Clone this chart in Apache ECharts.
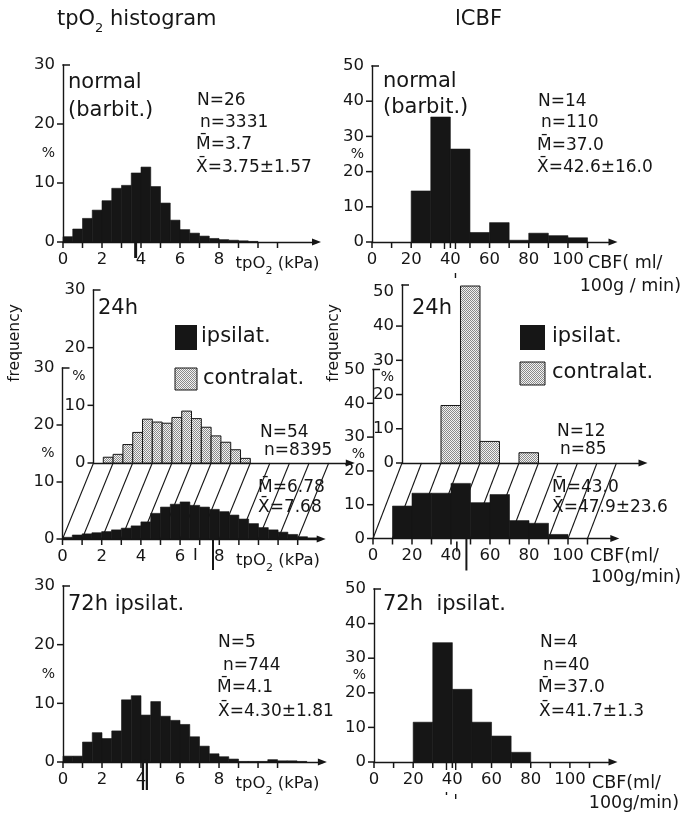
<!DOCTYPE html>
<html>
<head>
<meta charset="utf-8">
<title>tpO2 and lCBF histograms</title>
<script src="https://cdn.jsdelivr.net/npm/echarts@6/dist/echarts.min.js"></script>
<style>
  html, body { margin: 0; padding: 0; background: #ffffff; }
  #chart { width: 683px; height: 813px; }
</style>
</head>
<body>
<div id="chart"></div>
<script>
// ---------------- data ----------------
// tissue pO2 histograms: 0.5 kPa bins, percent of readings
const tpo2BinWidth = 0.5;
const cbfBinWidth = 10;

const tpo2NormalStart = 0;
const tpo2NormalPct = [0.9, 2.2, 4.0, 5.4, 7.0, 9.1, 9.6, 11.7, 12.7, 9.4, 6.6, 3.7, 2.1, 1.5, 1.0, 0.6, 0.4, 0.3, 0.2, 0.1];
const tpo2NormalStats = { N: '26', n: '3331', median: '3.7', mean: '3.75', sd: '1.57' };

const tpo2Day1IpsiStart = 0;
const tpo2Day1IpsiPct = [0.3, 0.7, 0.9, 1.1, 1.3, 1.6, 1.9, 2.3, 3.0, 4.5, 5.6, 6.1, 6.5, 5.9, 5.6, 5.2, 4.8, 4.2, 3.5, 2.7, 2.0, 1.6, 1.2, 0.8, 0.4, 0.2];
const tpo2Day1ContraStart = 0.5;
const tpo2Day1ContraPct = [1.0, 1.5, 3.2, 5.3, 7.6, 7.1, 6.9, 7.9, 9.0, 7.7, 6.2, 4.7, 3.6, 2.3, 0.8];
const tpo2Day1Stats = { N: '54', n: '8395', median: '6.78', mean: '7.68', sd: '' };

const tpo2Day3Start = 0;
const tpo2Day3Pct = [1.0, 1.0, 3.4, 5.0, 4.0, 5.3, 10.6, 11.3, 8.0, 10.3, 7.8, 7.1, 6.4, 4.3, 2.7, 1.4, 0.9, 0.5, 0.1, 0.1, 0.1, 0.4, 0.2, 0.2, 0.1];
const tpo2Day3Stats = { N: '5', n: '744', median: '4.1', mean: '4.30', sd: '1.81' };

// local CBF histograms: 10 ml/100g/min bins, percent of regions
const cbfNormalStart = 20;
const cbfNormalPct = [14.5, 35.5, 26.4, 2.7, 5.5, 0.5, 2.5, 1.8, 1.2];
const cbfNormalStats = { N: '14', n: '110', median: '37.0', mean: '42.6', sd: '16.0' };

const cbfDay1IpsiStart = 10;
const cbfDay1IpsiPct = [9.6, 13.4, 13.4, 16.3, 10.6, 13.0, 5.3, 4.5, 1.2];
const cbfDay1ContraStart = 20;
const cbfDay1ContraPct = [16.8, 51.7, 6.3, 0, 3.0];
const cbfDay1Stats = { N: '12', n: '85', median: '43.0', mean: '47.9', sd: '23.6' };

const cbfDay3Start = 20;
const cbfDay3Pct = [11.5, 34.5, 21.0, 11.5, 7.5, 2.8];
const cbfDay3Stats = { N: '4', n: '40', median: '37.0', mean: '41.7', sd: '1.3' };

// axis ticks and labels
const tpo2Ticks = [0, 1, 2, 3, 4, 5, 6, 7, 8, 9, 10, 11];
const tpo2TicksLong = [0, 1, 2, 3, 4, 5, 6, 7, 8, 9, 10, 11, 12];
const tpo2Labels = [0, 2, 4, 6, 8];
const tpo2UnitAt = 11;
const cbfTicks = [0, 10, 20, 30, 40, 50, 60, 70, 80, 90, 100, 110];
const cbfLabels = [0, 20, 40, 60, 80, 100];
const pct30Ticks = [0, 10, 20];
const pct30Labels = [0, 10, 20, 30];
const pct50Ticks = [0, 10, 20, 30, 40];
const pct50Labels = [0, 10, 20, 30, 40, 50];

// ---------------- styling ----------------
const INK = '#161616';
const FONT = '"DejaVu Sans", sans-serif';
const LINE = { color: INK, width: 1.4 };

// stippled fill used for the contralateral hemisphere
const dots = document.createElement('canvas');
dots.width = 2; dots.height = 2;
(function () {
  const c = dots.getContext('2d');
  c.fillStyle = '#f2f2f2'; c.fillRect(0, 0, 2, 2);
  c.fillStyle = '#8a8a8a'; c.fillRect(0, 0, 1, 1); c.fillRect(1, 1, 1, 1);
})();
const STIPPLE = { image: dots, repeat: 'repeat' };

const grids = [], xAxes = [], yAxes = [], series = [];
const panels = [];     // tick / cap / marker specs, resolved to pixels after layout

function addPanel(p) {
  const gi = grids.length;
  grids.push({ left: p.left, top: p.top, width: p.width, height: p.height });
  const unitFmt = p.unitAt != null;
  xAxes.push({
    type: 'value', gridIndex: gi, min: 0, max: p.xMax,
    axisLine: { show: true, onZero: false, symbol: ['none', 'triangle'], symbolSize: [7, 9], lineStyle: LINE },
    axisTick: { show: false },
    axisLabel: {
      show: !!p.xLabels,
      customValues: p.xLabels ? (unitFmt ? p.xLabels.concat([p.unitAt]) : p.xLabels) : [0],
      margin: 9, color: INK, fontFamily: FONT, fontSize: 16.5,
      formatter: v => (unitFmt && v === p.unitAt) ? '{u|tpO}{s|2}{u| (kPa)}' : String(v),
      rich: {
        u: { fontFamily: FONT, fontSize: 16.5, color: INK, lineHeight: 26, verticalAlign: 'middle' },
        s: { fontFamily: FONT, fontSize: 11, color: INK, lineHeight: 26, verticalAlign: 'bottom' }
      }
    },
    splitLine: { show: false }
  });
  yAxes.push({
    type: 'value', gridIndex: gi, min: 0, max: p.yMax,
    axisLine: { show: true, onZero: false, lineStyle: LINE },
    axisTick: { show: false },
    axisLabel: {
      show: true, customValues: p.yLabels.concat([p.pctAt]),
      margin: 8, color: INK, fontFamily: FONT, fontSize: 16.5,
      formatter: v => v === p.pctAt ? '{p|%}' : String(v),
      rich: { p: { fontFamily: FONT, fontSize: 14, color: INK } }
    },
    splitLine: { show: false }
  });
  panels.push({ gi, xTicks: p.xTicks || [], yTicks: p.yTicks || [], capAt: p.capAt, marks: [] });
  return gi;
}

function histogram(gi, start, width, values, stippled) {
  series.push({
    type: 'custom', xAxisIndex: gi, yAxisIndex: gi, silent: true, z: 2,
    data: values.map((v, i) => [start + i * width, start + (i + 1) * width, v]),
    encode: { x: [0, 1], y: 2 },
    renderItem(params, api) {
      const v = api.value(2);
      if (!v) return null;
      const a = api.coord([api.value(0), v]);
      const b = api.coord([api.value(1), 0]);
      return {
        type: 'rect',
        shape: { x: a[0], y: a[1], width: b[0] - a[0], height: b[1] - a[1] },
        style: stippled
          ? { fill: STIPPLE, stroke: INK, lineWidth: 1 }
          : { fill: INK, stroke: INK, lineWidth: 0.6 }
      };
    }
  });
}

// median / mean markers drawn across the abscissa
function markers(gi, marks) {
  panels.find(p => p.gi === gi).marks = marks;
}

// ---- panel: tpO2 normal ----
const gTpoNormal = addPanel({ left: 63, top: 65, width: 253.5, height: 177, xMax: 13, yMax: 30,
  xTicks: tpo2Ticks, xLabels: tpo2Labels, unitAt: tpo2UnitAt, yTicks: pct30Ticks, yLabels: pct30Labels, pctAt: 15, capAt: 30 });
histogram(gTpoNormal, tpo2NormalStart, tpo2BinWidth, tpo2NormalPct, false);
markers(gTpoNormal, [
  { v: parseFloat(tpo2NormalStats.median), w: 2, segs: [[-1, 16]] },
  { v: parseFloat(tpo2NormalStats.mean), w: 2, segs: [[-1, 16]] }
]);

// ---- panel: CBF normal ----
const gCbfNormal = addPanel({ left: 372, top: 66, width: 241, height: 176, xMax: 123, yMax: 50,
  xTicks: cbfTicks, xLabels: cbfLabels, yTicks: pct50Ticks, yLabels: pct50Labels, pctAt: 25, capAt: 50 });
histogram(gCbfNormal, cbfNormalStart, cbfBinWidth, cbfNormalPct, false);
markers(gCbfNormal, [
  { v: parseFloat(cbfNormalStats.median), w: 1.4, segs: [[-1, 7]] },
  { v: parseFloat(cbfNormalStats.mean), w: 1.4, segs: [[-1, 7], [31, 36]] }
]);

// ---- panel: tpO2 24h (contralateral behind, ipsilateral in front) ----
const gTpoDay1Back = addPanel({ left: 93.5, top: 290, width: 256.8, height: 173, xMax: 13.1, yMax: 30,
  yTicks: pct30Ticks, yLabels: pct30Labels, pctAt: 15, capAt: 30 });
histogram(gTpoDay1Back, tpo2Day1ContraStart, tpo2BinWidth, tpo2Day1ContraPct, true);
const gTpoDay1Front = addPanel({ left: 62.5, top: 368, width: 258.7, height: 171, xMax: 13.2, yMax: 30,
  xTicks: tpo2TicksLong, xLabels: tpo2Labels, unitAt: tpo2UnitAt, yTicks: pct30Ticks, yLabels: pct30Labels, pctAt: 15, capAt: 30 });
histogram(gTpoDay1Front, tpo2Day1IpsiStart, tpo2BinWidth, tpo2Day1IpsiPct, false);
markers(gTpoDay1Front, [
  { v: parseFloat(tpo2Day1Stats.median), w: 1.6, segs: [[9, 21]] },
  { v: parseFloat(tpo2Day1Stats.mean), w: 2, segs: [[-6, 31]] }
]);

// ---- panel: CBF 24h ----
const gCbfDay1Back = addPanel({ left: 402, top: 285, width: 241, height: 178, xMax: 123.6, yMax: 52,
  yTicks: pct50Ticks, yLabels: pct50Labels, pctAt: 25, capAt: 52 });
histogram(gCbfDay1Back, cbfDay1ContraStart, cbfBinWidth, cbfDay1ContraPct, true);
const gCbfDay1Front = addPanel({ left: 373, top: 369.5, width: 241.8, height: 169, xMax: 124, yMax: 50,
  xTicks: cbfTicks, xLabels: cbfLabels, yTicks: pct50Ticks, yLabels: pct50Labels, pctAt: 25, capAt: 50 });
histogram(gCbfDay1Front, cbfDay1IpsiStart, cbfBinWidth, cbfDay1IpsiPct, false);
markers(gCbfDay1Front, [
  { v: parseFloat(cbfDay1Stats.median), w: 1.6, segs: [[3, 13]] },
  { v: parseFloat(cbfDay1Stats.mean), w: 2, segs: [[0, 32]] }
]);

// ---- panel: tpO2 72h ----
const gTpoDay3 = addPanel({ left: 63, top: 586, width: 259.4, height: 176, xMax: 13.3, yMax: 30,
  xTicks: tpo2Ticks, xLabels: tpo2Labels, unitAt: tpo2UnitAt, yTicks: pct30Ticks, yLabels: pct30Labels, pctAt: 15, capAt: 30 });
histogram(gTpoDay3, tpo2Day3Start, tpo2BinWidth, tpo2Day3Pct, false);
markers(gTpoDay3, [
  { v: parseFloat(tpo2Day3Stats.median), w: 2.2, segs: [[-3, 28]] },
  { v: parseFloat(tpo2Day3Stats.mean), w: 2.2, segs: [[-3, 28]] }
]);

// ---- panel: CBF 72h ----
const gCbfDay3 = addPanel({ left: 374, top: 589, width: 239, height: 173, xMax: 122, yMax: 50,
  xTicks: cbfTicks, xLabels: cbfLabels, yTicks: pct50Ticks, yLabels: pct50Labels, pctAt: 25, capAt: 50 });
histogram(gCbfDay3, cbfDay3Start, cbfBinWidth, cbfDay3Pct, false);
markers(gCbfDay3, [
  { v: parseFloat(cbfDay3Stats.median), w: 1.4, segs: [[-1, 8], [30, 33]] },
  { v: parseFloat(cbfDay3Stats.mean), w: 1.4, segs: [[-1, 8], [32, 37]] }
]);

// ---------------- texts ----------------
function txt(x, y, text, size, extra) {
  return Object.assign({
    type: 'text', x, y, silent: true, z: 10,
    style: Object.assign({ text, fontSize: size, fontFamily: FONT, fill: INK, align: 'left', verticalAlign: 'middle' }, (extra && extra.style) || {})
  }, extra && extra.el ? extra.el : {});
}

function statTexts(s, xs, ys) {
  return [
    txt(xs[0], ys[0], 'N=' + s.N, 17),
    txt(xs[1], ys[1], 'n=' + s.n, 17),
    txt(xs[2], ys[2], 'M\u0304=' + s.median, 17),
    txt(xs[3], ys[3], 'X\u0304=' + s.mean + (s.sd ? '\u00b1' + s.sd : ''), 17)
  ];
}

const TITLE = 21;
const texts = [].concat(
  [
    { type: 'text', x: 57, y: 20, silent: true, z: 10,
      style: { text: '{a|tpO}{s|2}{a| histogram}', align: 'left', verticalAlign: 'middle',
        rich: { a: { fontFamily: FONT, fontSize: 21, fill: INK, lineHeight: 30, verticalAlign: 'middle' },
                s: { fontFamily: FONT, fontSize: 13, fill: INK, lineHeight: 30, verticalAlign: 'bottom' } } } },
    txt(455, 20, 'lCBF', TITLE),
    txt(15, 343, 'frequency', 15.5, { style: { align: 'center' }, el: { rotation: Math.PI / 2 } }),
    txt(334, 343, 'frequency', 15.5, { style: { align: 'center' }, el: { rotation: Math.PI / 2 } }),

    txt(68, 83, 'normal', TITLE), txt(68, 111, '(barbit.)', TITLE),
    txt(383, 82, 'normal', TITLE), txt(383, 108, '(barbit.)', TITLE),
    txt(98, 309, '24h', TITLE), txt(412, 309, '24h', TITLE),
    txt(68, 605, '72h ipsilat.', TITLE), txt(383, 605, '72h  ipsilat.', TITLE),

    // legends of the 24h panels
    { type: 'rect', shape: { x: 175, y: 325, width: 22, height: 25 }, style: { fill: INK }, silent: true, z: 10 },
    txt(201, 337, 'ipsilat.', TITLE),
    { type: 'rect', shape: { x: 175, y: 368, width: 22, height: 22 }, style: { fill: STIPPLE, stroke: INK, lineWidth: 1 }, silent: true, z: 10 },
    txt(203, 379, 'contralat.', TITLE),
    { type: 'rect', shape: { x: 520, y: 325, width: 25, height: 25 }, style: { fill: INK }, silent: true, z: 10 },
    txt(552, 337, 'ipsilat.', TITLE),
    { type: 'rect', shape: { x: 520, y: 362, width: 25, height: 23 }, style: { fill: STIPPLE, stroke: INK, lineWidth: 1 }, silent: true, z: 10 },
    txt(552, 373, 'contralat.', TITLE),

    // CBF units
    txt(588, 263, 'CBF( ml/', 17.5), txt(681, 286, '100g / min)', 17.5, { style: { align: 'right' } }),
    txt(590, 556, 'CBF(ml/', 17.5), txt(681, 577, '100g/min)', 17.5, { style: { align: 'right' } }),
    txt(592, 783, 'CBF(ml/', 17.5), txt(679, 803, '100g/min)', 17.5, { style: { align: 'right' } })
  ],
  statTexts(tpo2NormalStats, [197, 200, 196, 196], [101, 123, 145, 168]),
  statTexts(cbfNormalStats, [538, 541, 537, 537], [102, 123, 146, 168]),
  statTexts(tpo2Day1Stats, [260, 264, 258, 258], [433, 451, 488, 508]),
  statTexts(cbfDay1Stats, [557, 560, 552, 552], [432, 450, 488, 508]),
  statTexts(tpo2Day3Stats, [218, 223, 217, 218], [643, 666, 688, 712]),
  statTexts(cbfDay3Stats, [540, 543, 538, 539], [643, 666, 688, 712])
);

// ---------------- render ----------------
const chart = echarts.init(document.getElementById('chart'), null, { renderer: 'canvas' });
chart.setOption({
  backgroundColor: '#ffffff',
  animation: false,
  grid: grids,
  xAxis: xAxes,
  yAxis: yAxes,
  series: series
});

function seg(x1, y1, x2, y2, w, z) {
  return { type: 'line', silent: true, z: z, shape: { x1, y1, x2, y2 }, style: { stroke: INK, lineWidth: w } };
}
const px = (gi, x, y) => chart.convertToPixel({ gridIndex: gi }, [x, y]);

// ticks, axis caps and median / mean markers placed through each grid's scales
const axisMarks = [];
panels.forEach(p => {
  p.xTicks.forEach(v => { const c = px(p.gi, v, 0); axisMarks.push(seg(c[0], c[1], c[0], c[1] + 6, 1.5, 20)); });
  p.yTicks.forEach(v => { const c = px(p.gi, 0, v); axisMarks.push(seg(c[0], c[1], c[0] - 6, c[1], 1.5, 20)); });
  const t = px(p.gi, 0, p.capAt);
  axisMarks.push(seg(t[0] - 0.7, t[1], t[0] + 7, t[1], 1.5, 20));
  p.marks.forEach(m => {
    const c = px(p.gi, m.v, 0);
    m.segs.forEach(s => axisMarks.push(seg(c[0], c[1] + s[0], c[0], c[1] + s[1], m.w, 21)));
  });
});

// oblique guide lines joining the front and back abscissae of the 24h panels
function guides(front, back, values) {
  return values.map(v => {
    const a = px(front, v, 0);
    const b = px(back, v, 0);
    return seg(a[0], a[1], b[0], b[1], 1.1, 1);
  });
}

chart.setOption({
  graphic: texts
    .concat(axisMarks)
    .concat(guides(gTpoDay1Front, gTpoDay1Back, tpo2TicksLong))
    .concat(guides(gCbfDay1Front, gCbfDay1Back, cbfTicks))
});
</script>
</body>
</html>
